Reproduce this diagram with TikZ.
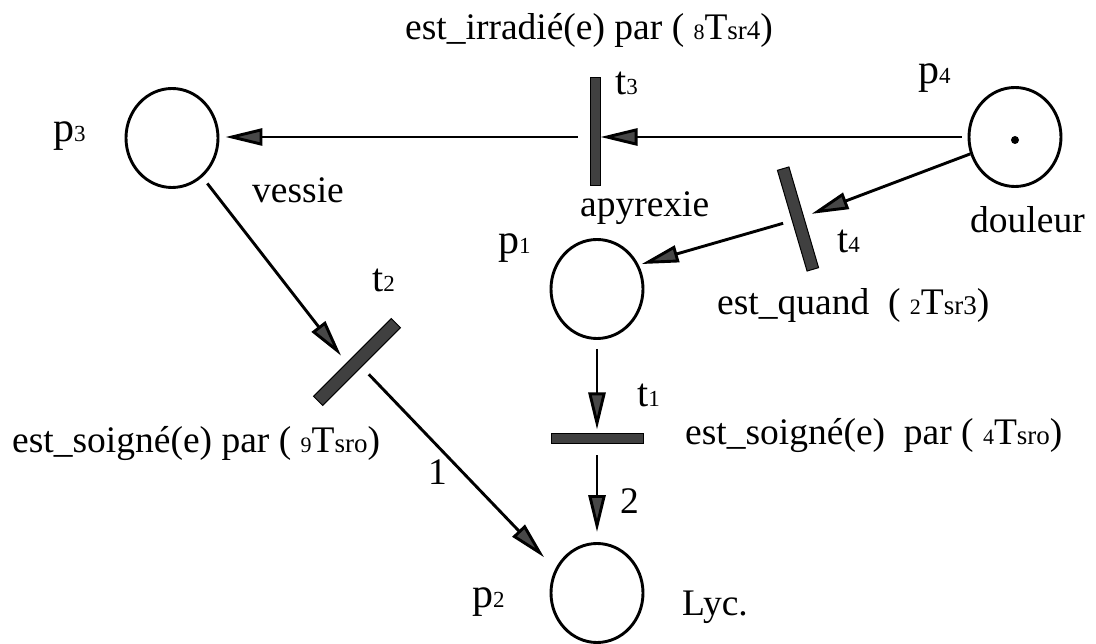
\documentclass[tikz,border=0pt]{standalone}
\usepackage{fontspec}
\setmainfont{Liberation Serif}
\usetikzlibrary{arrows.meta,shapes.geometric}

\newcommand\smd[1]{{\fontsize{22}{22}\selectfont #1}}
\newcommand\sml[1]{{\fontsize{27}{27}\selectfont #1}}
\newcommand\idx[1]{{\fontsize{23}{23}\selectfont #1}}

\begin{document}
\begin{tikzpicture}[x=1pt,y=-1pt,
  every node/.style={font=\fontsize{37.5}{40}\selectfont},
  place/.style={draw, line width=2.9pt, ellipse, minimum width=92pt, minimum height=99pt, inner sep=0pt},
  trans/.style={draw=black, fill=black!75, line width=1pt, rectangle, inner sep=0pt},
  arc/.style={line width=2.9pt, -{Triangle[length=37pt,width=17pt,fill=black!72]}},
  lbl/.style={anchor=base west, inner sep=0pt},
  plbl/.style={lbl, font=\fontsize{42}{42}\selectfont},
  tlbl/.style={lbl, font=\fontsize{40}{40}\selectfont},
]
\useasboundingbox (0,0) rectangle (1096,644);

% places
\node[place] (p3) at (172,138) {};
\node[place] (p4) at (1015,137) {};
\node[place] (p1) at (597,289) {};
\node[place] (p2) at (597,593) {};
\node[circle, fill=black, inner sep=0pt, minimum size=8pt] (tok) at (1015,140) {};

% transitions
\node[trans, minimum width=10pt, minimum height=108pt] (t3) at (595,132) {};
\node[trans, minimum width=92pt, minimum height=10pt] (t1) at (597,439) {};
\node[trans, minimum width=110pt, minimum height=13pt, rotate=45] (t2) at (357,362) {};
\node[trans, minimum width=105pt, minimum height=12pt, rotate=-73.6] (t4) at (798,219) {};

% arcs
\draw[arc, shorten <=6pt] (p4.west) -- (p4.west -| t3.east);
\draw[arc, shorten <=12pt, shorten >=6pt] (t3.west |- p4.west) -- (t3.west |- p4.west -| p3.east);
\draw[arc, shorten >=8pt] (p4) -- (t4);
\draw[arc, shorten <=9pt, shorten >=3pt] (t4) -- (p1.30);
\draw[arc, shorten <=9pt, shorten >=4pt] (p1.south) -- (p1.south |- t1.north);
\draw[arc, shorten <=11pt, shorten >=10pt] (t1.south -| p2.north) -- (p2.north);
\draw[arc, shorten <=8pt, shorten >=8pt] (p3) -- ([xshift=-11pt]t2.center);
\draw[arc, shorten <=17pt, shorten >=16pt] (t2.center) -- (p2.150);

% labels
\node[lbl] (l3) at (405,40) {est\_irradié(e) par ( \smd{8}T\sml{sr4})};
\node[lbl] (lv) at (252,203) {vessie};
\node[plbl] (lp3) at (53,142) {p\idx{3}};
\node[plbl] (lp1) at (498,254) {p\idx{1}};
\node[plbl] (lp4) at (918,84) {p\idx{4}};
\node[plbl] (lp2) at (472,607) {p\idx{2}};
\node[tlbl] (lt3) at (615,95) {t\idx{3}};
\node[tlbl] (lt4) at (837,253) {t\idx{4}};
\node[tlbl] (lt2) at (372,292) {t\idx{2}};
\node[tlbl] (lt1) at (637,407) {t\idx{1}};
\node[lbl] (ld) at (970,233) {douleur};
\node[lbl] (la) at (580,217) {apyrexie};
\node[lbl] (l4) at (717,315) {est\_quand\ \ ( \smd{2}T\sml{sr3})};
\node[lbl] (l1) at (685,445) {est\_soigné(e)\ \ par ( \smd{4}T\sml{sro})};
\node[lbl] (l2) at (12,453) {est\_soigné(e) par ( \smd{9}T\sml{sro})};
\node[lbl] (n1) at (428,485) {1};
\node[lbl] (n2) at (620,513) {2};
\node[lbl] (ly) at (682,615) {Lyc.};
\end{tikzpicture}
\end{document}
